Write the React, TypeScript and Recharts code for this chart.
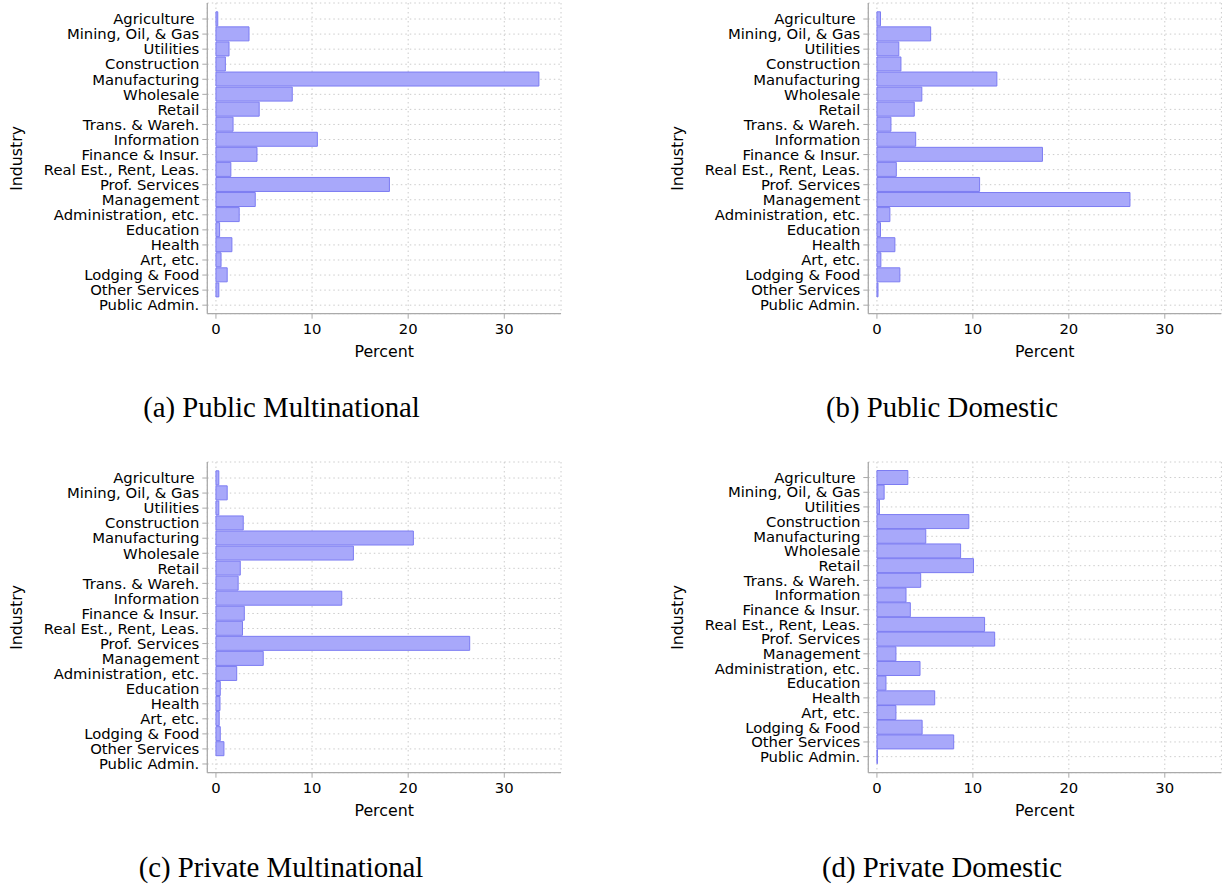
import React from 'react';
import { BarChart, Bar, XAxis, YAxis, CartesianGrid } from 'recharts';

const industries = [
  'Agriculture\u00a0',
  'Mining, Oil, & Gas',
  'Utilities',
  'Construction',
  'Manufacturing',
  'Wholesale',
  'Retail',
  'Trans. & Wareh.',
  'Information',
  'Finance & Insur.',
  'Real Est., Rent, Leas.',
  'Prof. Services',
  'Management',
  'Administration, etc.',
  'Education',
  'Health',
  'Art, etc.',
  'Lodging & Food',
  'Other Services',
  'Public Admin.',
];

const publicMultinational = [0.19, 3.44, 1.36, 0.98, 33.6, 7.94, 4.5, 1.78, 10.55, 4.27, 1.55, 18.05, 4.09, 2.42, 0.38, 1.66, 0.53, 1.17, 0.3, 0];
const publicDomestic = [0.37, 5.6, 2.28, 2.5, 12.5, 4.68, 3.89, 1.46, 4.04, 17.25, 2.02, 10.7, 26.37, 1.35, 0.37, 1.87, 0.41, 2.39, 0.11, 0];
const privateMultinational = [0.3, 1.17, 0.3, 2.84, 20.54, 14.3, 2.53, 2.31, 13.09, 2.95, 2.76, 26.4, 4.92, 2.16, 0.45, 0.42, 0.34, 0.45, 0.83, 0];
const privateDomestic = [3.22, 0.75, 0.26, 9.58, 5.09, 8.72, 10.06, 4.56, 3.03, 3.48, 11.22, 12.27, 1.98, 4.49, 0.94, 6.02, 1.98, 4.71, 8.0, 0.05];

const xTicks = [0, 10, 20, 30];
const xDomain = [-0.9, 35.9];

const FONT = '"DejaVu Sans", sans-serif';
const SPINE = '#aaaaaa';
const GRID = '#cccccc';
const TEXT = '#000000';

interface PanelProps {
  values: number[];
  left: number;
  top: number;
  width: number;
  marginRight: number;
  padTop: number;
  padBottom: number;
}

const Panel: React.FC<PanelProps> = ({ values, left, top, width, marginRight, padTop, padBottom }) => {
  const data = industries.map((name, i) => ({ name, value: values[i] }));
  return (
    <div style={{ position: 'absolute', left, top, width, height: 380 }}>
      <BarChart
        width={width}
        height={380}
        data={data}
        layout="vertical"
        margin={{ top: 3, right: marginRight, bottom: 0, left: 0 }}
        barCategoryGap={0.3}
      >
        <CartesianGrid stroke={GRID} strokeDasharray="1.5 3" strokeWidth={1} />
        <XAxis
          type="number"
          domain={xDomain}
          ticks={xTicks}
          allowDataOverflow
          height={66.3}
          tick={{ fill: TEXT, fontSize: 14.8, fontFamily: FONT }}
          tickSize={5}
          tickMargin={4.5}
          axisLine={{ stroke: SPINE, strokeWidth: 1.3 }}
          tickLine={{ stroke: SPINE, strokeWidth: 1 }}
          label={{
            value: 'Percent',
            position: 'insideBottom',
            offset: 23.5,
            fill: TEXT,
            fontSize: 15.8,
            fontFamily: FONT,
          }}
        />
        <YAxis
          type="category"
          dataKey="name"
          width={207.3}
          interval={0}
          padding={{ top: padTop, bottom: padBottom }}
          tick={{ fill: TEXT, fontSize: 14.8, fontFamily: FONT }}
          tickSize={5}
          tickMargin={3}
          axisLine={{ stroke: SPINE, strokeWidth: 1.3 }}
          tickLine={{ stroke: SPINE, strokeWidth: 1 }}
          label={{
            value: 'Industry',
            content: (props: any) => {
              const vb = props.viewBox || {};
              const cy = vb.y + vb.height / 2;
              return (
                <text
                  x={21.8}
                  y={cy}
                  transform={`rotate(-90, 21.8, ${cy})`}
                  textAnchor="middle"
                  fill={TEXT}
                  fontSize={15.8}
                  fontFamily={FONT}
                >
                  Industry
                </text>
              );
            },
          }}
        />
        <Bar
          dataKey="value"
          fill="#a8a8fa"
          stroke="#7c7cf2"
          strokeWidth={1}
          isAnimationActive={false}
        />
      </BarChart>
    </div>
  );
};

const captions = [
  { text: '(a) Public Multinational', x: 281.5, y: 416.5 },
  { text: '(b) Public Domestic', x: 942, y: 416.5 },
  { text: '(c) Private Multinational', x: 281, y: 876.5 },
  { text: '(d) Private Domestic', x: 942, y: 876.5 },
];

export default function App() {
  return (
    <div style={{ position: 'absolute', left: 0, top: 0, width: 1225, height: 886, background: '#fff', overflow: 'hidden' }}>
      <Panel values={publicMultinational} left={0} top={0} width={570} marginRight={9} padTop={8.5} padBottom={1} />
      <Panel values={publicDomestic} left={661.4} top={0} width={563} marginRight={2.6} padTop={8.5} padBottom={1} />
      <Panel values={privateMultinational} left={0} top={459.3} width={570} marginRight={9} padTop={8.5} padBottom={1.2} />
      <Panel values={privateDomestic} left={661.4} top={459.3} width={563} marginRight={2.6} padTop={8.2} padBottom={8.7} />
      <svg width={1225} height={886} style={{ position: 'absolute', left: 0, top: 0, pointerEvents: 'none' }}>
        {captions.map((c) => (
          <text
            key={c.text}
            x={c.x}
            y={c.y}
            textAnchor="middle"
            fill="#000"
            fontSize={28.8}
            fontFamily='"Liberation Serif", serif'
          >
            {c.text}
          </text>
        ))}
      </svg>
    </div>
  );
}
